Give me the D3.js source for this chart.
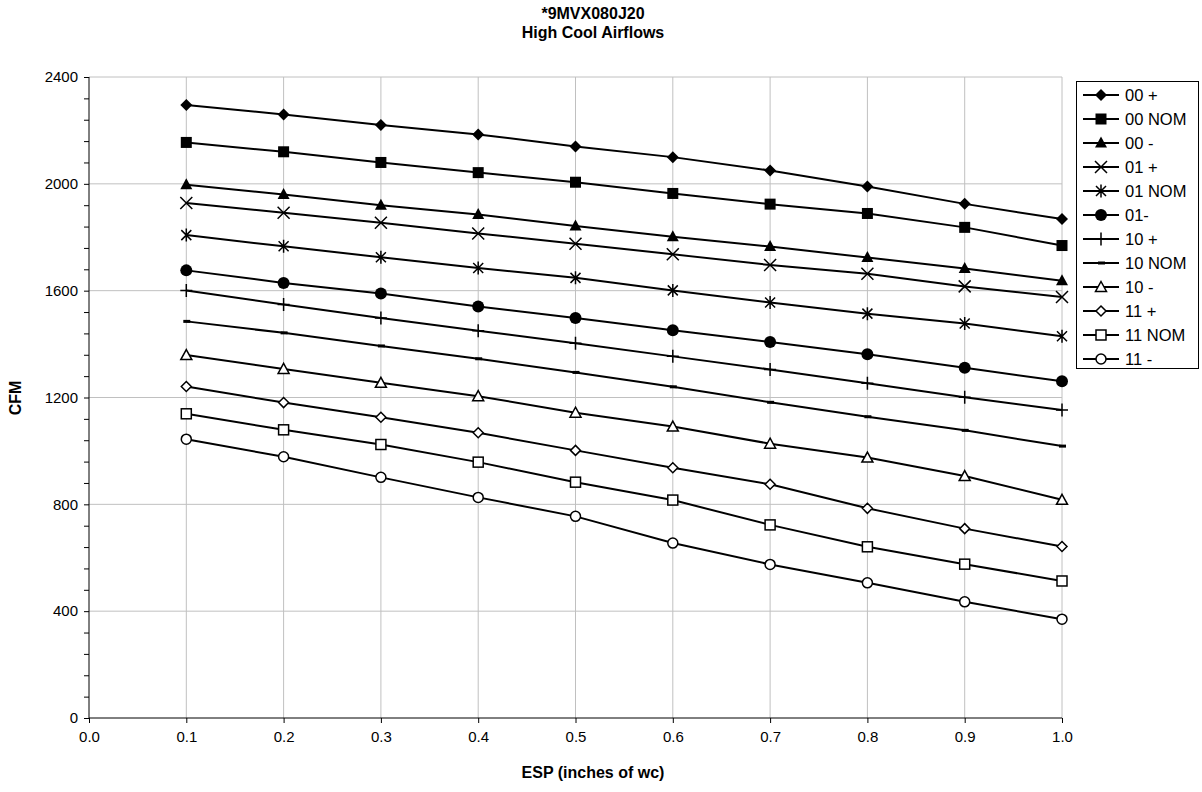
<!DOCTYPE html>
<html>
<head>
<meta charset="utf-8">
<script src="https://cdn.jsdelivr.net/npm/d3@7"></script>
<style>
  body { margin: 0; background: #fff; }
  svg text { font-family: "Liberation Sans", Arial, sans-serif; }
</style>
</head>
<body>
<div id="chart"></div>
<script>
// ESP values (x axis)
const esp = [0.1, 0.2, 0.3, 0.4, 0.5, 0.6, 0.7, 0.8, 0.9, 1.0];

// series names, in legend order
const seriesNames = ["00 +", "00 NOM", "00 -", "01 +", "01 NOM", "01-",
                     "10 +", "10 NOM", "10 -", "11 +", "11 NOM", "11 -"];

// CFM values
const s00p = [2295, 2260, 2220, 2185, 2140, 2100, 2050, 1990, 1925, 1868];
const s00n = [2155, 2120, 2080, 2042, 2006, 1964, 1924, 1889, 1837, 1769];
const s00m = [1997, 1960, 1920, 1885, 1842, 1802, 1765, 1724, 1683, 1637];
const s01p = [1928, 1892, 1854, 1814, 1776, 1736, 1696, 1663, 1616, 1576];
const s01n = [1808, 1766, 1725, 1685, 1648, 1601, 1556, 1514, 1477, 1429];
const s01m = [1676, 1629, 1589, 1541, 1498, 1452, 1408, 1362, 1311, 1261];
const s10p = [1601, 1548, 1498, 1450, 1403, 1354, 1305, 1253, 1201, 1153];
const s10n = [1485, 1442, 1393, 1345, 1294, 1240, 1182, 1128, 1077, 1018];
const s10m = [1359, 1307, 1255, 1205, 1143, 1091, 1027, 975, 906, 817];
const s11p = [1241, 1181, 1126, 1068, 1002, 937, 875, 785, 709, 642];
const s11n = [1139, 1079, 1024, 958, 883, 816, 723, 641, 576, 513];
const s11m = [1044, 978, 901, 826, 755, 655, 575, 506, 435, 370];
const seriesValues = [s00p, s00n, s00m, s01p, s01n, s01m, s10p, s10n, s10m, s11p, s11n, s11m];

// marker per series
const markerTypes = ["diamond", "square", "triangle", "x", "star", "circle",
                     "plus", "dash", "triangleOpen", "diamondOpen", "squareOpen", "circleOpen"];

const xTicks = [0.0, 0.1, 0.2, 0.3, 0.4, 0.5, 0.6, 0.7, 0.8, 0.9, 1.0];
const yTicks = [0, 400, 800, 1200, 1600, 2000, 2400];

const width = 1202, height = 792;

const svg = d3.select("#chart").append("svg")
    .attr("width", width)
    .attr("height", height);

const x = d3.scaleLinear().domain([0, 1]).range([89, 1062]);
const y = d3.scaleLinear().domain([0, 2400]).range([718, 77]);

// gridlines
svg.append("g")
    .selectAll("line")
    .data(yTicks.filter(d => d > 0))
    .join("line")
    .attr("x1", x(0)).attr("x2", x(1))
    .attr("y1", d => y(d)).attr("y2", d => y(d))
    .attr("stroke", "#c0c0c0").attr("stroke-width", 1);

svg.append("g")
    .selectAll("line")
    .data(xTicks.filter(d => d > 0))
    .join("line")
    .attr("x1", d => x(d)).attr("x2", d => x(d))
    .attr("y1", y(0)).attr("y2", y(2400))
    .attr("stroke", "#c0c0c0").attr("stroke-width", 1);

// y axis with minor ticks every 80
const yAxis = svg.append("g")
    .attr("transform", `translate(${x(0)},0)`)
    .call(d3.axisLeft(y).tickValues(d3.range(0, 2401, 80)).tickSize(5)
        .tickFormat(d => d % 400 === 0 ? d : ""));
yAxis.selectAll("text").attr("font-size", 15).attr("dx", "-3").attr("fill", "#000");
yAxis.select(".domain").attr("d", `M0,${y(0)}V${y(2400)}`);

// x axis
const xAxis = svg.append("g")
    .attr("transform", `translate(0,${y(0)})`)
    .call(d3.axisBottom(x).tickValues(xTicks).tickSize(5).tickFormat(d3.format(".1f")));
xAxis.selectAll("text").attr("font-size", 15).attr("dy", "1.05em").attr("fill", "#000");
xAxis.select(".domain").attr("d", `M${x(0)},0H${x(1)}`);

svg.selectAll(".domain, .tick line").attr("stroke", "#000");

// titles
svg.append("text").attr("x", 593).attr("y", 19).attr("text-anchor", "middle")
    .attr("font-size", 16).attr("font-weight", "bold").text("*9MVX080J20");
svg.append("text").attr("x", 593).attr("y", 38).attr("text-anchor", "middle")
    .attr("font-size", 16).attr("font-weight", "bold").text("High Cool Airflows");
svg.append("text").attr("x", 593).attr("y", 778).attr("text-anchor", "middle")
    .attr("font-size", 16).attr("font-weight", "bold").text("ESP (inches of wc)");
svg.append("text").attr("transform", "translate(21,398) rotate(-90)")
    .attr("text-anchor", "middle")
    .attr("font-size", 16).attr("font-weight", "bold").text("CFM");

// marker drawing
function drawMarker(g, type, cx, cy) {
    const m = g.append("g").attr("transform", `translate(${cx},${cy})`);
    switch (type) {
        case "diamond":
            m.append("path").attr("d", "M0,-6L6,0L0,6L-6,0Z").attr("fill", "#000");
            break;
        case "square":
            m.append("rect").attr("x", -5.5).attr("y", -5.5).attr("width", 11).attr("height", 11).attr("fill", "#000");
            break;
        case "triangle":
            m.append("path").attr("d", "M0,-6.5L6,4.5L-6,4.5Z").attr("fill", "#000");
            break;
        case "x":
            m.append("path").attr("d", "M-6,-6L6,6M-6,6L6,-6").attr("stroke", "#000").attr("stroke-width", 1.5);
            break;
        case "star":
            m.append("path").attr("d", "M-5,-5L5,5M-5,5L5,-5M0,-6.5V6.5").attr("stroke", "#000").attr("stroke-width", 1.5);
            break;
        case "circle":
            m.append("circle").attr("r", 6).attr("fill", "#000");
            break;
        case "plus":
            m.append("path").attr("d", "M-6,0H6M0,-6.5V6.5").attr("stroke", "#000").attr("stroke-width", 1.5);
            break;
        case "dash":
            m.append("rect").attr("x", -3).attr("y", -1.5).attr("width", 7).attr("height", 3).attr("fill", "#000");
            break;
        case "triangleOpen":
            m.append("path").attr("d", "M0,-5.5L5.5,4.5L-5.5,4.5Z").attr("fill", "#fff").attr("stroke", "#000").attr("stroke-width", 1.5);
            break;
        case "diamondOpen":
            m.append("path").attr("d", "M0,-5L5,0L0,5L-5,0Z").attr("fill", "#fff").attr("stroke", "#000").attr("stroke-width", 1.5);
            break;
        case "squareOpen":
            m.append("rect").attr("x", -5).attr("y", -5).attr("width", 10).attr("height", 10).attr("fill", "#fff").attr("stroke", "#000").attr("stroke-width", 1.5);
            break;
        case "circleOpen":
            m.append("circle").attr("r", 5).attr("fill", "#fff").attr("stroke", "#000").attr("stroke-width", 1.5);
            break;
    }
}

// series lines + markers
const line = d3.line().x((d, i) => x(esp[i])).y(d => y(d));
const plot = svg.append("g");
seriesValues.forEach(vals => {
    plot.append("path")
        .attr("d", line(vals))
        .attr("fill", "none")
        .attr("stroke", "#000")
        .attr("stroke-width", 2);
});
seriesValues.forEach((vals, si) => {
    vals.forEach((v, i) => drawMarker(plot, markerTypes[si], x(esp[i]), y(v)));
});

// legend
const legend = svg.append("g");
legend.append("rect")
    .attr("x", 1076.5).attr("y", 81.5).attr("width", 122).attr("height", 287)
    .attr("fill", "#fff").attr("stroke", "#000").attr("stroke-width", 1);
seriesNames.forEach((name, i) => {
    const ly = 95 + i * 24;
    legend.append("line").attr("x1", 1083).attr("x2", 1119).attr("y1", ly).attr("y2", ly)
        .attr("stroke", "#000").attr("stroke-width", 2);
    drawMarker(legend, markerTypes[i], 1101, ly);
    legend.append("text").attr("x", 1125).attr("y", ly + 6).attr("font-size", 16.5).text(name);
});
</script>
</body>
</html>
